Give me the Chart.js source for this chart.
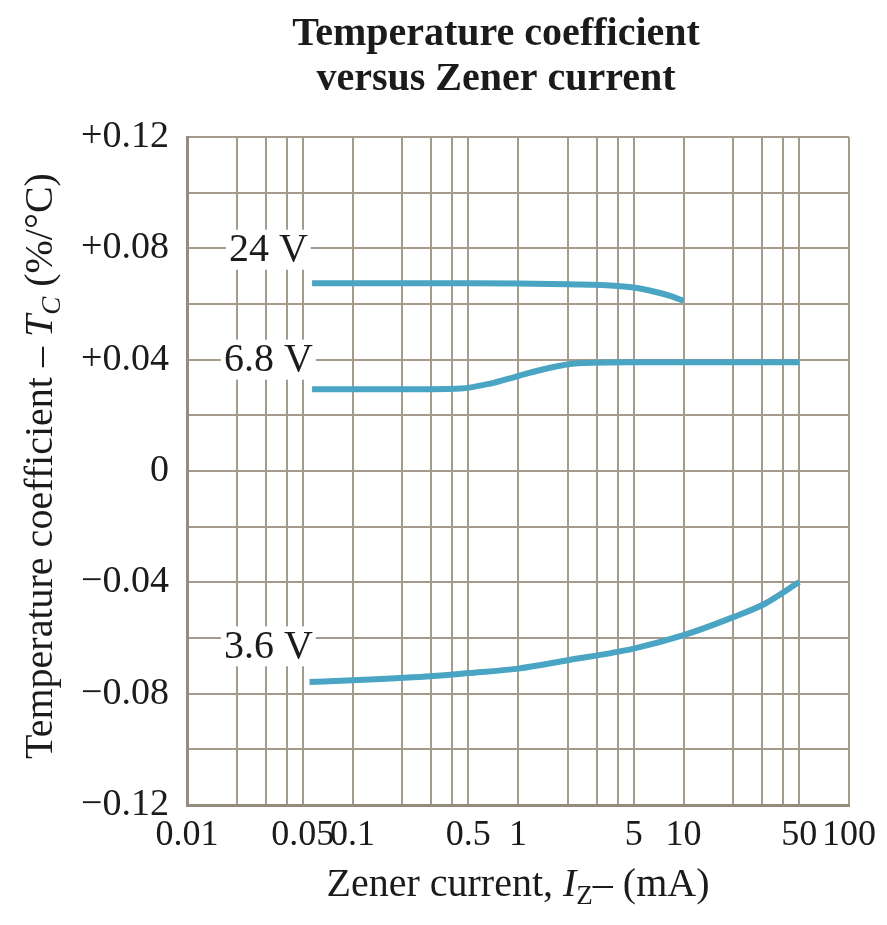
<!DOCTYPE html>
<html>
<head>
<meta charset="utf-8">
<title>Temperature coefficient versus Zener current</title>
<script src="https://cdn.jsdelivr.net/npm/chart.js@4.4.1/dist/chart.umd.min.js"></script>
<style>
  html, body { margin: 0; padding: 0; background: #fff; }
  canvas { display: block; }
</style>
</head>
<body>
<canvas id="tc-chart" width="887" height="925"></canvas>
<script>
// log axis: Zener current in mA
const xGridValues = [0.01, 0.02, 0.03, 0.04, 0.05, 0.1, 0.2, 0.3, 0.4, 0.5,
                     1, 2, 3, 4, 5, 10, 20, 30, 40, 50, 100];
const xTickLabels = [0.01, 0.05, 0.1, 0.5, 1, 5, 10, 50, 100];

// temperature coefficient in %/°C
const yGridValues = [-0.12, -0.10, -0.08, -0.06, -0.04, -0.02, 0,
                     0.02, 0.04, 0.06, 0.08, 0.10, 0.12];
const yTickLabels = [-0.12, -0.08, -0.04, 0, 0.04, 0.08, 0.12];

const seriesNames = ['24 V', '6.8 V', '3.6 V'];

const current24 = [0.057, 0.1, 0.5, 1, 2, 4, 5, 6.8, 8.2, 10];
const tc24      = [0.0675, 0.0675, 0.0675, 0.0674, 0.0671, 0.0665, 0.0659, 0.0643, 0.063, 0.0612];

const current68 = [0.057, 0.1, 0.3, 0.45, 0.68, 1, 1.56, 2.3, 5, 10, 50];
const tc68      = [0.0294, 0.0294, 0.0294, 0.0296, 0.0314, 0.0341, 0.0371, 0.0387, 0.0391, 0.0391, 0.0391];

const current36 = [0.055, 0.1, 0.28, 0.5, 1, 2, 5, 10, 20, 31, 50];
const tc36      = [-0.0758, -0.0752, -0.0738, -0.0726, -0.071, -0.068, -0.0638, -0.059, -0.0525, -0.0477, -0.0399];

// where the voltage tags sit on the grid (axis units)
const tagCurrent = [0.031, 0.031, 0.031];
const tagTC      = [0.0795, 0.04, -0.063];

const SERIF = '"Liberation Serif", "Times New Roman", serif';
const curveColor = '#4aa4c4';
const gridColor = '#a49b8c';
const inkColor = '#1b1b1b';

function toPoints(xs, ys) {
    return xs.map((x, i) => ({ x: x, y: ys[i] }));
}

function isIn(list, v) {
    return list.some(t => Math.abs(t - v) <= Math.abs(t) * 1e-6 + 1e-9);
}

function fmtTC(v) {
    if (Math.abs(v) < 1e-9) return '0';
    return (v > 0 ? '+' : '\u2212') + Math.abs(v).toFixed(2);
}

// draws a row of text pieces (different fonts / offsets) centred on x
function drawRuns(ctx, runs, x, y) {
    let total = 0;
    runs.forEach(r => { ctx.font = r.font; r.w = ctx.measureText(r.text).width; total += r.w; });
    let cx = x - total / 2;
    runs.forEach(r => {
        ctx.font = r.font;
        ctx.fillText(r.text, cx, y + (r.dy || 0));
        cx += r.w;
    });
}

const paperText = {
    id: 'paperText',
    afterDraw(chart) {
        const ctx = chart.ctx;
        const xs = chart.scales.x, ys = chart.scales.y;
        ctx.save();
        ctx.fillStyle = inkColor;
        ctx.textAlign = 'left';
        ctx.textBaseline = 'alphabetic';

        // title
        const tFont = 'bold 40px ' + SERIF;
        drawRuns(ctx, [{ text: 'Temperature coefficient', font: tFont }], 496, 45);
        drawRuns(ctx, [{ text: 'versus Zener current', font: tFont }], 496, 90);

        // x axis title
        const reg = '40px ' + SERIF, ital = 'italic 40px ' + SERIF, sub = 'italic 27px ' + SERIF;
        drawRuns(ctx, [
            { text: 'Zener current, ', font: reg },
            { text: 'I', font: ital },
            { text: 'Z', font: '27px ' + SERIF, dy: 8 },
            { text: '\u2013 (mA)', font: reg }
        ], (chart.chartArea.left + chart.chartArea.right) / 2, 896);

        // y axis title
        ctx.translate(52, 466);
        ctx.rotate(-Math.PI / 2);
        drawRuns(ctx, [
            { text: 'Temperature coefficient \u2013 ', font: reg },
            { text: 'T', font: ital },
            { text: 'C', font: sub, dy: 8 },
            { text: ' (%/\u00b0C)', font: reg }
        ], 0, 0);
        ctx.setTransform(1, 0, 0, 1, 0, 0);

        // voltage tags with a white patch over the grid
        ctx.font = '40px ' + SERIF;
        ctx.textAlign = 'center';
        ctx.textBaseline = 'middle';
        seriesNames.forEach((name, i) => {
            const px = xs.getPixelForValue(tagCurrent[i]);
            const py = ys.getPixelForValue(tagTC[i]);
            const w = ctx.measureText(name).width + 6;
            ctx.fillStyle = '#fff';
            ctx.fillRect(px - w / 2, py - 20, w, 40);
            ctx.fillStyle = inkColor;
            ctx.fillText(name, px, py + 1);
        });
        ctx.restore();
    }
};

const ctx = document.getElementById('tc-chart').getContext('2d');
const tcChart = new Chart(ctx, {
    type: 'line',
    data: {
        datasets: [
            { label: seriesNames[0], data: toPoints(current24, tc24) },
            { label: seriesNames[1], data: toPoints(current68, tc68) },
            { label: seriesNames[2], data: toPoints(current36, tc36) }
        ].map(ds => Object.assign(ds, {
            borderColor: curveColor,
            borderWidth: 6,
            pointRadius: 0,
            fill: false,
            cubicInterpolationMode: 'monotone',
            borderCapStyle: 'butt'
        }))
    },
    options: {
        responsive: false,
        animation: false,
        layout: { padding: { top: 137, right: 38, left: 0, bottom: 0 } },
        plugins: {
            legend: { display: false },
            tooltip: { enabled: false }
        },
        scales: {
            x: {
                type: 'logarithmic',
                min: 0.01,
                max: 100,
                afterBuildTicks: scale => { scale.ticks = xGridValues.map(v => ({ value: v })); },
                afterFit: scale => { scale.height = 120; },
                grid: { color: gridColor, lineWidth: 2, drawTicks: false },
                border: { color: '#968c7d', width: 3 },
                ticks: {
                    autoSkip: false,
                    maxRotation: 0,
                    minRotation: 0,
                    padding: 9,
                    color: inkColor,
                    font: { family: SERIF, size: 36 },
                    callback: v => isIn(xTickLabels, v) ? String(v) : ''
                }
            },
            y: {
                min: -0.12,
                max: 0.12,
                afterBuildTicks: scale => { scale.ticks = yGridValues.map(v => ({ value: v })); },
                afterFit: scale => { scale.width = 187; },
                grid: { color: gridColor, lineWidth: 2, drawTicks: false },
                border: { color: '#968c7d', width: 3 },
                ticks: {
                    padding: 18,
                    color: inkColor,
                    font: { family: SERIF, size: 38 },
                    callback: v => isIn(yTickLabels, v) ? fmtTC(v) : ''
                }
            }
        }
    },
    plugins: [paperText]
});
</script>
</body>
</html>
